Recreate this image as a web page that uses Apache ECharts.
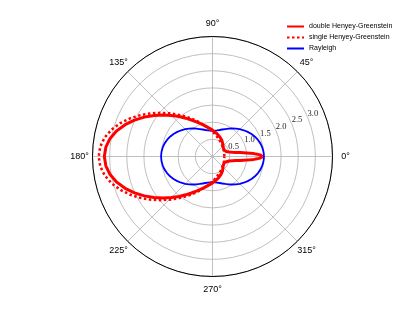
<!DOCTYPE html>
<html><head><meta charset="utf-8">
<script src="https://cdn.jsdelivr.net/npm/echarts@6/dist/echarts.min.js"></script>
<style>html,body{margin:0;padding:0;background:#fff}#c{width:415px;height:311px}</style>
</head><body><div id="c"></div>
<script>
const angles = [0,1,2,3,4,5,6,8,10,12,15,20,25,30,35,40,45,50,55,60,65,70,75,80,85,90,95,100,105,110,115,120,125,130,135,140,145,150,155,160,165,170,175,180,
185,190,195,200,205,210,215,220,225,230,235,240,245,250,255,260,265,270,275,280,285,290,295,300,305,310,315,320,325,330,335,340,345,348,350,352,354,355,356,357,358,359,360];
const doubleHG = [1.460,1.440,1.385,1.304,1.207,1.103,1.002,0.826,0.691,0.595,0.502,0.427,0.397,0.390,0.395,0.410,0.435,0.470,0.510,0.545,0.580,0.615,0.650,0.685,0.725,0.770,0.815,0.870,0.940,1.020,1.115,1.230,1.364,1.520,1.692,1.882,2.085,2.297,2.510,2.712,2.892,3.033,3.123,3.155,
3.123,3.033,2.892,2.712,2.510,2.297,2.085,1.882,1.692,1.520,1.364,1.230,1.115,1.020,0.940,0.870,0.815,0.770,0.725,0.685,0.650,0.615,0.580,0.545,0.510,0.470,0.435,0.410,0.395,0.390,0.397,0.427,0.502,0.595,0.691,0.826,1.002,1.103,1.207,1.304,1.385,1.440,1.460];
const singleHG = [0.346,0.346,0.346,0.346,0.347,0.347,0.347,0.348,0.349,0.350,0.353,0.359,0.366,0.375,0.386,0.399,0.415,0.433,0.454,0.479,0.507,0.539,0.577,0.619,0.669,0.725,0.790,0.864,0.950,1.049,1.161,1.289,1.435,1.599,1.781,1.980,2.195,2.418,2.642,2.855,3.043,3.192,3.287,3.320,
3.287,3.192,3.043,2.855,2.642,2.418,2.195,1.980,1.781,1.599,1.435,1.289,1.161,1.049,0.950,0.864,0.790,0.725,0.669,0.619,0.577,0.539,0.507,0.479,0.454,0.433,0.415,0.399,0.386,0.375,0.366,0.359,0.353,0.350,0.349,0.348,0.347,0.347,0.347,0.346,0.346,0.346,0.346];
const rayleigh = [1.500,1.500,1.499,1.498,1.496,1.494,1.492,1.485,1.477,1.468,1.450,1.412,1.366,1.313,1.253,1.190,1.125,1.060,0.997,0.938,0.884,0.838,0.800,0.773,0.756,0.750,0.756,0.773,0.800,0.838,0.884,0.938,0.997,1.060,1.125,1.190,1.253,1.313,1.366,1.412,1.450,1.477,1.494,1.500,
1.494,1.477,1.450,1.412,1.366,1.313,1.253,1.190,1.125,1.060,0.997,0.938,0.884,0.838,0.800,0.773,0.756,0.750,0.756,0.773,0.800,0.838,0.884,0.938,0.997,1.060,1.125,1.190,1.253,1.313,1.366,1.412,1.450,1.468,1.477,1.485,1.492,1.494,1.496,1.498,1.499,1.500,1.500];
const seriesNames = ['double Henyey-Greenstein','single Henyey-Greenstein','Rayleigh'];
const radialTickLabels = ['0.5','1.0','1.5','2.0','2.5','3.0'];
const radialLabelAngle = 22.5;
const angleTicks = [0,45,90,135,180,225,270,315];
const RMAX = 3.5;

const chart = echarts.init(document.getElementById('c'), null, {renderer:'canvas'});
const pairs = arr => arr.map((r,i)=>[r, angles[i]]);
const CENTER = [212.5,156.5], R = 120, LABEL_R = 133;
chart.setOption({
  animation:false,
  backgroundColor:'#fff',
  polar:[{center:CENTER, radius:R}],
  angleAxis:[{
    polarIndex:0, type:'value', min:0, max:360, interval:45, startAngle:0, clockwise:false,
    axisLine:{lineStyle:{color:'#000', width:1}},
    axisTick:{show:false},
    splitLine:{show:true, lineStyle:{color:'#b0b0b0', width:0.8}},
    axisLabel:{show:false}
  }],
  radiusAxis:[{
    polarIndex:0, type:'value', min:0, max:RMAX, interval:0.5,
    axisLine:{show:false}, axisTick:{show:false}, axisLabel:{show:false},
    splitLine:{show:true, lineStyle:{color:'#b0b0b0', width:0.8}}
  }],
  legend:{
    orient:'vertical', left:286, top:23, padding:0, itemWidth:17, itemHeight:7, itemGap:4,
    data:seriesNames,
    itemStyle:{opacity:0},
    textStyle:{fontSize:7, fontFamily:'Liberation Sans', color:'#000'}
  },
  series:[
    {name:seriesNames[0], type:'line', coordinateSystem:'polar', polarIndex:0, symbol:'none', showSymbol:false, z:4,
     lineStyle:{color:'#ff0000', width:3}, itemStyle:{color:'#ff0000'}, data:pairs(doubleHG)},
    {name:seriesNames[1], type:'line', coordinateSystem:'polar', polarIndex:0, symbol:'none', showSymbol:false, z:5,
     lineStyle:{color:'#ff0000', width:2.5, type:[2.5,2.5]}, itemStyle:{color:'#ff0000'}, data:pairs(singleHG)},
    {name:seriesNames[2], type:'line', coordinateSystem:'polar', polarIndex:0, symbol:'none', showSymbol:false, z:3,
     lineStyle:{color:'#0000ff', width:1.8}, itemStyle:{color:'#0000ff'}, data:pairs(rayleigh)}
  ]
});
const c0 = chart.convertToPixel({polarIndex:0}, [0, 0]);
const texts = radialTickLabels.map(t => {
  const p = chart.convertToPixel({polarIndex:0}, [parseFloat(t), radialLabelAngle]);
  return {type:'text', x:p[0], y:p[1]+1, z:10,
    style:{text:t, fill:'#262626', font:'8.5px "Liberation Serif"', align:'left', verticalAlign:'bottom'}};
});
angleTicks.forEach(a => {
  const q = chart.convertToPixel({polarIndex:0}, [RMAX, a]);
  const k = LABEL_R / R;
  texts.push({type:'text', x:c0[0] + (q[0]-c0[0])*k, y:c0[1] + (q[1]-c0[1])*k, z:10,
    style:{text:a + '°', fill:'#000', font:'9px "Liberation Sans"', align:'center', verticalAlign:'middle'}});
});
chart.setOption({graphic:texts});
</script></body></html>
